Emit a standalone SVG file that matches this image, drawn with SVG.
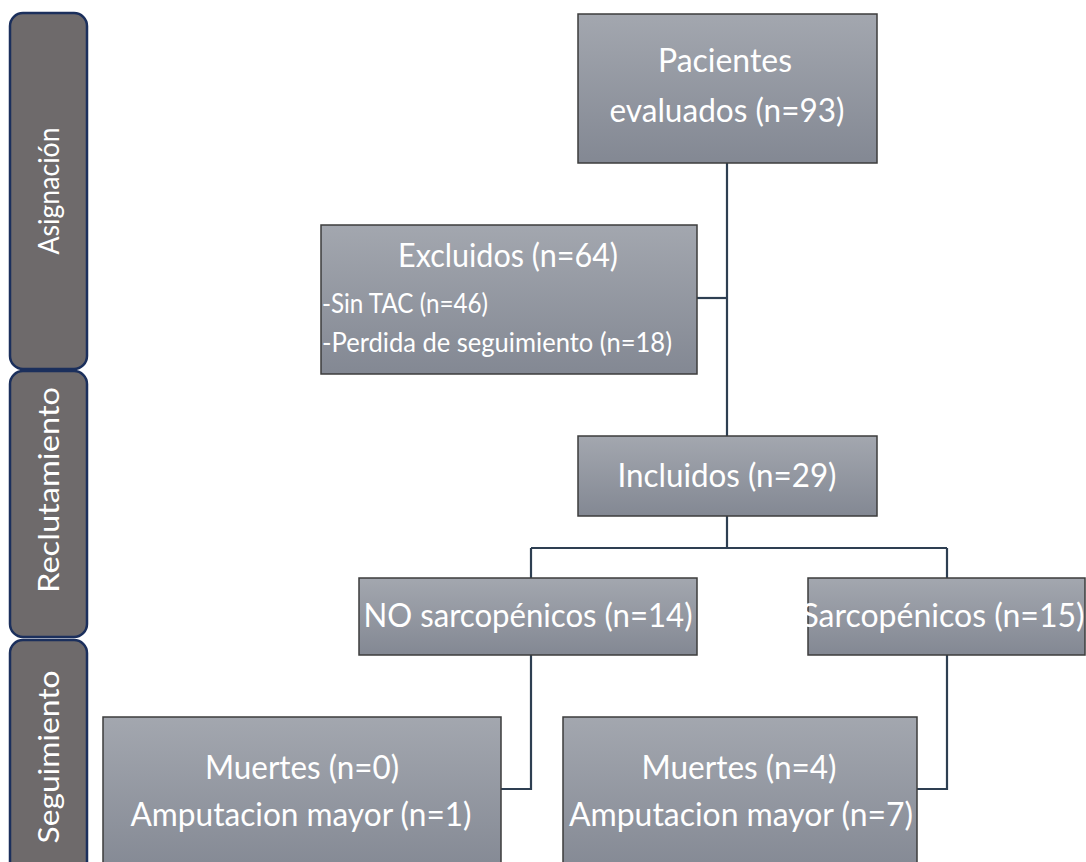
<svg xmlns="http://www.w3.org/2000/svg" width="1086" height="862" viewBox="0 0 1086 862">
<defs>
<linearGradient id="boxg" x1="0" y1="0" x2="0" y2="1">
<stop offset="0" stop-color="#a3a7af"/>
<stop offset="1" stop-color="#838893"/>
</linearGradient>
<style>
.side{fill:#6e6a6b;stroke:#1b2f5c;stroke-width:2.5}
.stxt{font-family:Lato,"Liberation Sans",sans-serif;font-size:29px;fill:#ffffff;text-anchor:middle}
.box{fill:url(#boxg);stroke:#3c3c3c;stroke-width:1.5}
.t{font-family:Lato,"Liberation Sans",sans-serif;font-size:32px;fill:#ffffff;text-anchor:middle}
.s{font-family:Lato,"Liberation Sans",sans-serif;font-size:26px;fill:#ffffff}
.c{fill:none;stroke:#2e3f52;stroke-width:2.2}
</style>
</defs>
<rect width="1086" height="862" fill="#ffffff"/>
<g id="side-asignacion">
<rect class="side" x="10" y="13" width="77" height="356" rx="13"/>
<text class="stxt" transform="translate(59,191) rotate(-90)" textLength="127" lengthAdjust="spacingAndGlyphs">Asignación</text>
</g>
<g id="side-reclutamiento">
<rect class="side" x="10" y="371" width="77" height="266" rx="13"/>
<text class="stxt" transform="translate(59,490) rotate(-90)" textLength="206" lengthAdjust="spacingAndGlyphs">Reclutamiento</text>
</g>
<g id="side-seguimiento">
<rect class="side" x="10" y="640" width="77" height="240" rx="13"/>
<text class="stxt" transform="translate(59,757) rotate(-90)" textLength="173" lengthAdjust="spacingAndGlyphs">Seguimiento</text>
</g>
<g id="connectors">
<path class="c" d="M727,163 V437"/>
<path class="c" d="M697,298 H727"/>
<path class="c" d="M727,516 V548"/>
<path class="c" d="M531,548 H947"/>
<path class="c" d="M531,548 V578"/>
<path class="c" d="M947,548 V578"/>
<path class="c" d="M531,655 V789 H501"/>
<path class="c" d="M947,655 V789 H917"/>
</g>
<g id="node-pacientes">
<rect class="box" x="578" y="14" width="299" height="149"/>
<text class="t" x="725" y="72" textLength="134" lengthAdjust="spacingAndGlyphs">Pacientes</text>
<text class="t" x="727" y="122" textLength="235" lengthAdjust="spacingAndGlyphs">evaluados (n=93)</text>
</g>
<g id="node-excluidos">
<rect class="box" x="321" y="225" width="376" height="149"/>
<text class="t" x="508" y="267" textLength="220" lengthAdjust="spacingAndGlyphs">Excluidos (n=64)</text>
<text class="s" x="322" y="313" textLength="166" lengthAdjust="spacingAndGlyphs">-Sin TAC (n=46)</text>
<text class="s" x="322" y="352" textLength="350" lengthAdjust="spacingAndGlyphs">-Perdida de seguimiento (n=18)</text>
</g>
<g id="node-incluidos">
<rect class="box" x="578" y="436" width="299" height="80"/>
<text class="t" x="727" y="487" textLength="219" lengthAdjust="spacingAndGlyphs">Incluidos (n=29)</text>
</g>
<g id="node-no-sarcopenicos">
<rect class="box" x="359" y="578" width="338" height="77"/>
<text class="t" x="528" y="627" textLength="329" lengthAdjust="spacingAndGlyphs">NO sarcopénicos (n=14)</text>
</g>
<g id="node-sarcopenicos">
<rect class="box" x="808" y="578" width="277" height="77"/>
<text class="t" x="943" y="627" font-size="29">Sarcopénicos (n=15)</text>
</g>
<g id="node-resultado-no">
<rect class="box" x="103" y="717" width="398" height="160"/>
<text class="t" x="302" y="779" textLength="194" lengthAdjust="spacingAndGlyphs">Muertes (n=0)</text>
<text class="t" x="301" y="826" textLength="341" lengthAdjust="spacingAndGlyphs">Amputacion mayor (n=1)</text>
</g>
<g id="node-resultado-si">
<rect class="box" x="563" y="717" width="354" height="160"/>
<text class="t" x="739" y="779" textLength="195" lengthAdjust="spacingAndGlyphs">Muertes (n=4)</text>
<text class="t" x="741" y="826" textLength="344" lengthAdjust="spacingAndGlyphs">Amputacion mayor (n=7)</text>
</g>
</svg>
